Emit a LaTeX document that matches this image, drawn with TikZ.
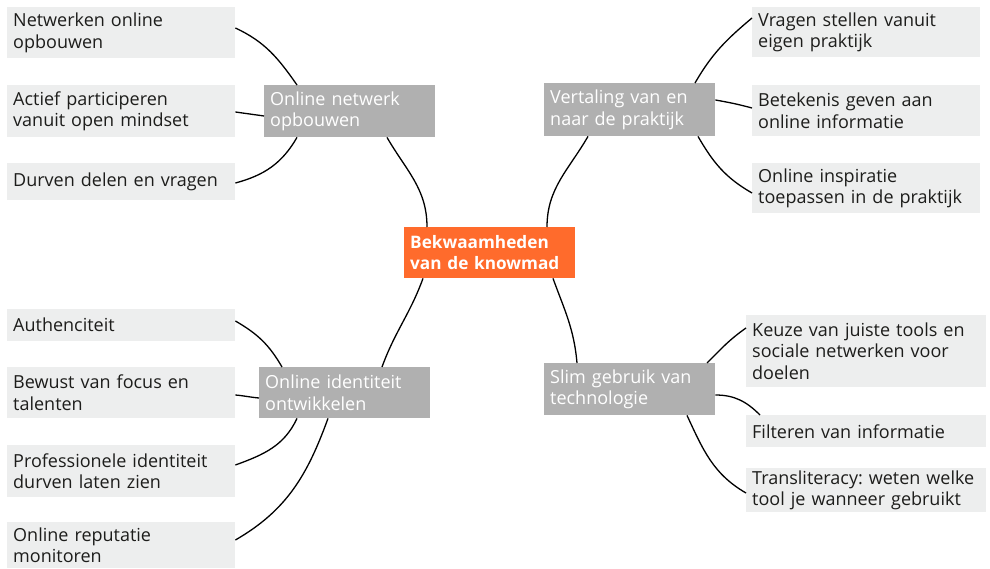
\documentclass[tikz,border=0pt]{standalone}
\usepackage{fontspec}
\setmainfont{Open Sans}
\frenchspacing
\usetikzlibrary{calc}
\definecolor{leafgray}{HTML}{EDEEEE}
\definecolor{branchgray}{HTML}{B0B0B0}
\definecolor{centerorange}{HTML}{FF6B2C}
\definecolor{txt}{HTML}{1D1D1B}
\tikzset{
  box/.style={anchor=north west, inner xsep=6pt, inner ysep=0pt, align=left,
    font=\fontsize{18}{21.5}\selectfont},
  leaf/.style={box, fill=leafgray, text=txt},
  branch/.style={box, fill=branchgray, text=white, text width=159pt},
  hub/.style={box, fill=centerorange, text=white, text width=159pt,
    font=\fontsize{17.2}{21.5}\selectfont\bfseries},
  link/.style={line width=1.3pt, black}
}
\begin{document}
\begin{tikzpicture}[x=1pt,y=1pt]
\useasboundingbox (0,0) rectangle (990,-569);
% center
\node[hub, minimum height=51pt] (C) at (404,-227) {Bekwaamheden\\van de knowmad};
% branches
\node[branch, minimum height=52pt] (B1) at (264,-85) {Online netwerk\\opbouwen};
\node[branch, minimum height=53pt] (B2) at (544,-83) {Vertaling van en\\naar de praktijk};
\node[branch, minimum height=51pt] (B3) at (259,-367) {Online identiteit\\ontwikkelen};
\node[branch, minimum height=52pt] (B4) at (544,-363) {Slim gebruik van\\technologie};
% left top leaves
\node[leaf, text width=216pt, minimum height=51pt] (L1) at (7,-7) {Netwerken online\\opbouwen};
\node[leaf, text width=216pt, minimum height=52pt] (L2) at (7,-85) {Actief participeren\\vanuit open mindset};
\node[leaf, text width=216pt, minimum height=37pt] (L3) at (7,-163) {Durven delen en vragen};
% right top leaves
\node[leaf, text width=216pt, minimum height=50pt] (R1) at (752,-7) {Vragen stellen vanuit\\eigen praktijk};
\node[leaf, text width=216pt, minimum height=51pt] (R2) at (752,-85) {Betekenis geven aan\\online informatie};
\node[leaf, text width=216pt, minimum height=50pt] (R3) at (752,-163) {Online inspiratie\\toepassen in de praktijk};
% left bottom leaves
\node[leaf, text width=216pt, minimum height=32pt] (A1) at (7,-309) {Authenciteit};
\node[leaf, text width=216pt, minimum height=51pt] (A2) at (7,-367) {Bewust van focus en\\talenten};
\node[leaf, text width=216pt, minimum height=52pt] (A3) at (7,-445) {Professionele identiteit\\durven laten zien};
\node[leaf, text width=216pt, minimum height=46pt] (A4) at (7,-522) {Online reputatie\\monitoren};
% right bottom leaves
\node[leaf, text width=228pt, minimum height=72pt] (S1) at (746,-315) {Keuze van juiste tools en\\sociale netwerken voor\\doelen};
\node[leaf, text width=228pt, minimum height=32pt] (S2) at (746,-415) {Filteren van informatie};
\node[leaf, text width=228pt, minimum height=44pt] (S3) at (746,-468) {Transliteracy: weten welke\\tool je wanneer gebruikt};
% center to branches
\draw[link] ($(C.north west)+(23,0)$) to[out=90,in=-60] ($(B1.south west)+(123,0)$);
\draw[link] ($(C.north west)+(143,0)$) to[out=90,in=-120] ($(B2.south west)+(44,0)$);
\draw[link] ($(C.south west)+(19,0)$) to[out=-110,in=70] ($(B3.north west)+(123,0)$);
\draw[link] ($(C.south west)+(149,0)$) to[out=-70,in=95] ($(B4.north west)+(33,0)$);
% B1 leaves
\draw[link] ($(B1.north west)+(33,0)$) to[out=125,in=-25] ($(L1.north east)+(0,-21)$);
\draw[link] ($(B1.north west)+(0,-31)$) to[out=172,in=-8] ($(L2.north east)+(0,-27)$);
\draw[link] ($(B1.south west)+(33,0)$) to[out=-120,in=15] ($(L3.north east)+(0,-20)$);
% B2 leaves
\draw[link] ($(B2.north west)+(151,0)$) to[out=60,in=-140] ($(R1.north west)+(0,-11)$);
\draw[link] ($(B2.north east)+(0,-17)$) to[out=-10,in=165] ($(R2.north west)+(0,-23)$);
\draw[link] ($(B2.south west)+(154,0)$) to[out=-60,in=150] ($(R3.north west)+(0,-30)$);
% B3 leaves
\draw[link] ($(B3.north west)+(23,0)$) to[out=120,in=-30] ($(A1.north east)+(0,-12)$);
\draw[link] ($(B3.north west)+(0,-31)$) to[out=175,in=-5] ($(A2.north east)+(0,-28)$);
\draw[link] ($(B3.south west)+(38,0)$) to[out=-115,in=20] ($(A3.north east)+(0,-20)$);
\draw[link] ($(B3.south west)+(69,0)$) to[out=-110,in=30] ($(A4.north east)+(0,-18)$);
% B4 leaves
\draw[link] ($(B4.north west)+(163,0)$) to[out=45,in=-145] ($(S1.north west)+(0,-13)$);
\draw[link] ($(B4.north east)+(0,-32)$) to[out=0,in=135] ($(S2.north west)+(14,0)$);
\draw[link] ($(B4.south west)+(143,0)$) to[out=-65,in=150] ($(S3.north west)+(0,-25)$);
\end{tikzpicture}
\end{document}
